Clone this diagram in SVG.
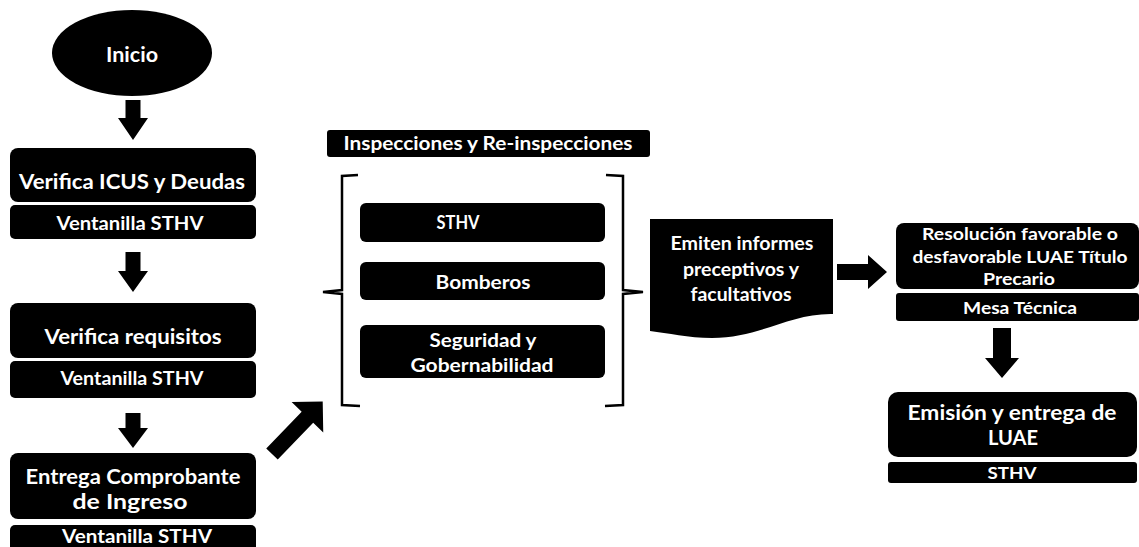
<svg xmlns="http://www.w3.org/2000/svg" width="1139" height="547" viewBox="0 0 1139 547">
<style>
.n{fill:#000}
.t{fill:#fff;font-family:Lato,"Open Sans","Liberation Sans",sans-serif;font-weight:700;text-anchor:middle}
.a{fill:#000}
.br{fill:none;stroke:#000;stroke-width:2.5;stroke-linejoin:miter}
</style>
<rect width="1139" height="547" fill="#fff"/>
<g id="inicio">
<ellipse class="n" cx="132" cy="53" rx="80" ry="43"/>
<text class="t" x="132" y="62" font-size="21" textLength="52" lengthAdjust="spacingAndGlyphs">Inicio</text>
</g>
<g id="verifica-icus">
<rect class="n" x="10" y="148" width="246" height="54" rx="8"/>
<text class="t" x="132" y="189" font-size="21" textLength="226" lengthAdjust="spacingAndGlyphs">Verifica ICUS y Deudas</text>
</g>
<g id="ventanilla-1">
<rect class="n" x="10" y="205" width="246" height="34" rx="5"/>
<text class="t" x="130" y="230" font-size="19" textLength="147" lengthAdjust="spacingAndGlyphs">Ventanilla STHV</text>
</g>
<g id="verifica-requisitos">
<rect class="n" x="10" y="303" width="246" height="55" rx="8"/>
<text class="t" x="133" y="344" font-size="21" textLength="177" lengthAdjust="spacingAndGlyphs">Verifica requisitos</text>
</g>
<g id="ventanilla-2">
<rect class="n" x="10" y="361" width="246" height="37" rx="5"/>
<text class="t" x="132" y="385" font-size="19" textLength="143" lengthAdjust="spacingAndGlyphs">Ventanilla STHV</text>
</g>
<g id="entrega-comprobante">
<rect class="n" x="10" y="453" width="246" height="66" rx="8"/>
<text class="t" x="133" y="484" font-size="21" textLength="215" lengthAdjust="spacingAndGlyphs">Entrega Comprobante</text>
<text class="t" x="130" y="509" font-size="21" textLength="115" lengthAdjust="spacingAndGlyphs">de Ingreso</text>
</g>
<g id="ventanilla-3">
<rect class="n" x="10" y="525" width="246" height="40" rx="5"/>
<text class="t" x="137" y="543" font-size="19.5" textLength="150" lengthAdjust="spacingAndGlyphs">Ventanilla STHV</text>
</g>
<g id="inspecciones">
<rect class="n" x="327" y="130" width="323" height="27" rx="3"/>
<text class="t" x="488" y="150" font-size="18" textLength="289" lengthAdjust="spacingAndGlyphs">Inspecciones y Re-inspecciones</text>
<path class="br" d="M358,175 L342,176 L342,290 L323,292 L342,294 L342,405 L360,406"/>
<path class="br" d="M606,175 L623,176 L623,290 L643,292 L623,294 L623,405 L605,406"/>
</g>
<g id="sthv-mid">
<rect class="n" x="360" y="203" width="245" height="39" rx="6"/>
<text class="t" x="458" y="229" font-size="18" textLength="43" lengthAdjust="spacingAndGlyphs">STHV</text>
</g>
<g id="bomberos">
<rect class="n" x="360" y="262" width="245" height="38" rx="6"/>
<text class="t" x="483" y="289" font-size="18" textLength="95" lengthAdjust="spacingAndGlyphs">Bomberos</text>
</g>
<g id="seguridad">
<rect class="n" x="360" y="325" width="245" height="53" rx="6"/>
<text class="t" x="483" y="347" font-size="18.5" textLength="107" lengthAdjust="spacingAndGlyphs">Seguridad y</text>
<text class="t" x="482" y="372" font-size="18.5" textLength="143" lengthAdjust="spacingAndGlyphs">Gobernabilidad</text>
</g>
<g id="emiten-informes">
<path class="n" d="M650,219 L833,219 L833,314 C790,313 760,338 712,338 C688,338 668,333 650,331 Z"/>
<text class="t" x="742" y="250" font-size="18.5" textLength="143" lengthAdjust="spacingAndGlyphs">Emiten informes</text>
<text class="t" x="741" y="276" font-size="18.5" textLength="116" lengthAdjust="spacingAndGlyphs">preceptivos y</text>
<text class="t" x="741" y="301" font-size="18.5" textLength="101" lengthAdjust="spacingAndGlyphs">facultativos</text>
</g>
<g id="resolucion">
<rect class="n" x="896" y="223" width="243" height="66" rx="8"/>
<text class="t" x="1020" y="240" font-size="17.5" textLength="196" lengthAdjust="spacingAndGlyphs">Resolución favorable o</text>
<text class="t" x="1020" y="263" font-size="17.5" textLength="215" lengthAdjust="spacingAndGlyphs">desfavorable LUAE Título</text>
<text class="t" x="1019" y="285" font-size="17.5" textLength="72" lengthAdjust="spacingAndGlyphs">Precario</text>
</g>
<g id="mesa-tecnica">
<rect class="n" x="896" y="293" width="243" height="28" rx="3"/>
<text class="t" x="1020" y="314" font-size="17.5" textLength="114" lengthAdjust="spacingAndGlyphs">Mesa Técnica</text>
</g>
<g id="emision">
<rect class="n" x="888" y="392" width="249" height="65" rx="10"/>
<text class="t" x="1012" y="420" font-size="21" textLength="209" lengthAdjust="spacingAndGlyphs">Emisión y entrega de</text>
<text class="t" x="1013" y="445" font-size="21" textLength="50" lengthAdjust="spacingAndGlyphs">LUAE</text>
</g>
<g id="sthv-final">
<rect class="n" x="888" y="462" width="249" height="21" rx="3"/>
<text class="t" x="1012" y="479" font-size="17" textLength="49" lengthAdjust="spacingAndGlyphs">STHV</text>
</g>
<g id="connectors">
<path class="a" d="M125.5,100 H140.5 V118 H148 L133,140 L118,118 H125.5 Z"/>
<path class="a" d="M125.5,252 H140.5 V271 H148 L133,292 L118,271 H125.5 Z"/>
<path class="a" d="M125.5,413 H140.5 V428 H148 L133,448 L118,428 H125.5 Z"/>
<path class="a" transform="translate(272,454) rotate(-46)" d="M0,-8 H51 V-22 L73,0 L51,22 V8 H0 Z"/>
<path class="a" d="M837,264 H868 V255 L887,272 L868,289 V280 H837 Z"/>
<path class="a" d="M993,328 H1011 V358 H1019 L1002,378 L985,358 H993 Z"/>
</g>
</svg>
